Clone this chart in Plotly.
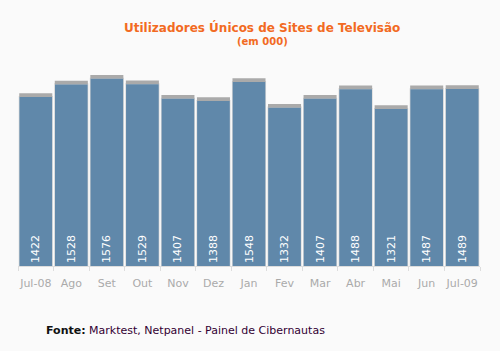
import plotly.graph_objects as go

months = ["Jul-08", "Ago", "Set", "Out", "Nov", "Dez", "Jan", "Fev", "Mar", "Abr", "Mai", "Jun", "Jul-09"]
values = [1422, 1528, 1576, 1529, 1407, 1388, 1548, 1332, 1407, 1488, 1321, 1487, 1489]

cap = 32
fig = go.Figure()
# light grey side shadow
fig.add_trace(go.Bar(x=months, y=[v + cap * 0.3 for v in values], width=0.96,
                     marker=dict(color="#d9d9d9", line=dict(width=0)), hoverinfo="skip"))
# darker grey top cap
fig.add_trace(go.Bar(x=months, y=[cap] * len(values), base=values, width=0.93,
                     marker=dict(color="#aaaaaa", line=dict(width=0)), hoverinfo="skip"))
# main bars
fig.add_trace(go.Bar(x=months, y=values, width=0.92,
                     marker=dict(color="#6088aa", line=dict(width=0)),
                     text=[str(v) for v in values], textposition="inside",
                     insidetextanchor="start", textangle=-90,
                     textfont=dict(family="DejaVu Sans", size=11, color="white")))

fig.update_layout(
    width=500, height=351, barmode="overlay", showlegend=False,
    paper_bgcolor="#fafafa", plot_bgcolor="#fafafa",
    margin=dict(l=18, r=20, t=60, b=85),
    font=dict(family="DejaVu Sans", size=11, color="#aaaaaa"),
    xaxis=dict(type="category", tickson="boundaries", ticks="outside", ticklen=4,
               tickangle=0, ticklabelstandoff=7,
               tickcolor="#dddddd", showline=True, linecolor="#dddddd", linewidth=1,
               tickfont=dict(size=11, color="#aaaaaa"), showgrid=False),
    yaxis=dict(range=[0, 1734], visible=False, showgrid=False),
    annotations=[
        dict(text="<b>Utilizadores Únicos de Sites de Televisão</b>", x=262, y=351 - 27,
             showarrow=False, xanchor="center",
             font=dict(size=12, color="#f26a22", family="DejaVu Sans")),
        dict(text="<b>(em 000)</b>", x=262, y=351 - 41, showarrow=False, xanchor="center",
             font=dict(size=10, color="#f26a22", family="DejaVu Sans")),
        dict(text="<b>Fonte:</b> <span style='color:#330033'>Marktest, Netpanel - Painel de Cibernautas</span>",
             x=44, y=351 - 330, showarrow=False, xanchor="left",
             font=dict(size=11, color="#111111", family="DejaVu Sans")),
    ],
)
# convert pixel-based annotation positions to paper coords
pw = 500 - 18 - 20
ph = 351 - 60 - 85
for a in fig.layout.annotations:
    px, py = a.x, a.y
    a.x = (px - 18) / pw
    a.y = (py - 85) / ph
    a.xref = "paper"
    a.yref = "paper"
    a.yanchor = "middle"

fig.write_html("out.html")
